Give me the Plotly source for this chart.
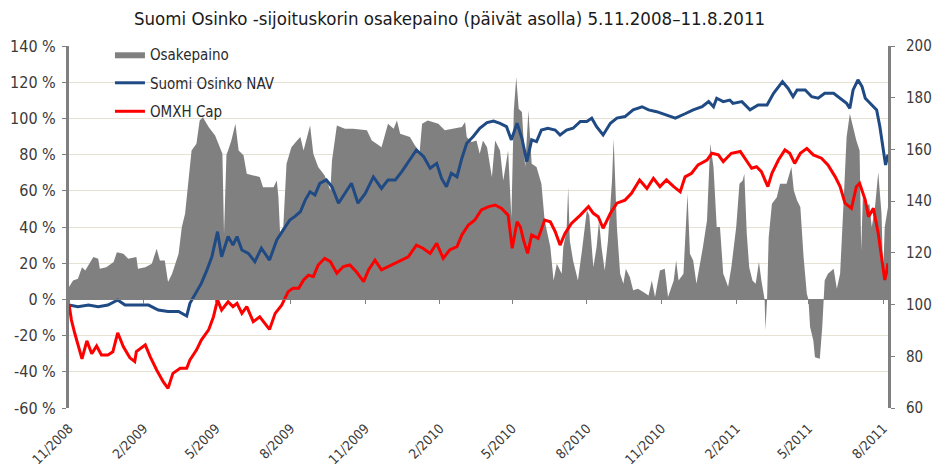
import pandas as pd
import plotly.graph_objects as go

start_date = "2008-11-05"
end_date = "2011-08-11"

# Osakepaino (equity weight, %), left axis
area_days = [0,5,11,16,20,26,30,36,38,46,55,59,67,73,83,85,94,102,108,112,118,122,127,135,139,143,147,151,157,161,
             165,172,180,186,189,191,194,196,200,205,209,215,219,227,235,239,252,256,258,260,264,268,274,281,285,289,297,301,307,315,
             322,324,330,340,350,367,373,379,385,393,400,404,408,420,426,432,435,442,455,463,476,484,488,490,496,502,506,510,515,521,
             525,531,535,541,545,548,551,554,558,562,566,570,576,582,586,593,597,601,607,609,613,615,617,621,625,627,632,636,638,641,
             644,646,650,653,656,660,664,669,671,675,679,683,686,691,695,701,708,714,718,722,728,734,738,745,748,751,757,762,765,769,
             773,777,781,786,790,794,798,802,806,808,812,816,822,826,830,832,835,838,842,846,850,853,857,858,860,862,866,872,876,884,
             890,893,897,901,905,909,911,913,917,919,925,928,930,931,935,942,946,950,954,958,962,966,970,974,976,978,982,986,989,993,
             997,1001,1003,1005,1009]
area_vals = [6.8,10.5,11.4,17.8,16,20.6,23.4,22.5,17,17.8,20.6,26.1,25.2,22.5,23.4,17,17.8,19.7,28,21.5,21.5,9.6,14.2,25.2,40,47.3,65.7,82.3,86,98.9,
             100.7,95.2,90.6,84.1,80.5,36.3,80,82.3,87.8,97,82.3,79.6,69.4,68.5,67.6,62,62,65.7,56.5,37.2,40,75,84.1,87.8,89.7,82.3,96.1,80.5,73.1,68.5,
             60.2,76.8,96.1,94.3,94.3,93.4,87.8,86,84.1,97.1,94.3,98.9,91.5,89.7,85.1,81.4,97,98.9,97.1,93.4,94.3,95.2,98,89.7,86.9,87.8,80.5,87.8,84.1,67.6,
             87.8,82.3,65.7,82.3,45,104.4,122.8,105.4,103.5,73.1,104.4,75,73.1,63.9,43.6,28.9,10.5,19.7,14.2,28.9,38.1,62,32.6,21.5,14.2,10.5,27.1,40,49.2,46.4,
             30.8,17.8,28.9,43.6,28.9,16,32.6,65.7,88.8,40,14.2,8.7,17,12.3,5,5.9,4,2.2,10.5,1.3,16,17,1.3,10.5,21.5,10.5,14.2,58.4,25.2,21.5,
             8.7,17.8,28.9,43.6,86,73.1,40,40,14.2,12,7,17.8,40,63.9,65.7,69.4,36.3,17.8,10.5,8.7,20.6,10.5,0,-17,0,34.4,52.9,56.5,63.9,63.9,
             73.1,60.2,54.7,51,23.4,3.1,0,-15.3,-22.7,-31.9,-32.8,-15.3,0,10.5,14.2,17,5.9,14.2,51,89.7,102.6,95.2,87.8,82.3,27,56.5,51,52.9,40,51,
             70.3,47.3,14.2,40,51]

# Suomi Osinko NAV (index), right axis
nav_days = [0,11,24,36,48,60,69,83,98,110,122,135,145,149,157,163,170,176,183,188,196,202,207,213,221,229,237,247,256,264,
            272,278,285,291,297,303,309,317,324,332,340,348,356,365,375,385,393,402,410,420,428,437,445,453,459,465,471,478,484,490,
            498,506,515,523,531,539,545,552,558,564,570,576,582,590,599,605,613,621,630,638,644,650,658,667,675,685,695,706,714,724,
            736,747,759,769,780,788,794,798,806,814,818,829,839,849,860,868,879,886,892,897,907,915,923,931,942,950,958,962,966,972,
            977,981,989,995,999,1003,1006,1009]
nav_vals = [99.8,99.2,99.8,99.2,99.8,101.8,99.8,99.8,99.8,97.9,97.3,97.3,95.6,100.5,105,108.2,113.4,118.5,128.2,118.5,
            126.3,123,126.3,121.1,119.8,116.6,121.8,117.2,125,128.8,132.7,134,135.9,140.4,143.6,142.4,146.9,148.2,145.6,139.2,
            143,146.9,139.2,143,149.4,144.9,148.2,148.2,151.4,155.9,159.8,157.2,152.7,154.6,148.8,145.6,150.8,149.4,156.6,162.4,
            165,168.2,170.4,171,170.1,168.8,163.7,170.1,164.3,155.3,163.7,163,167.5,168.2,167.5,165.6,167.5,168.2,170.8,170.8,
            172.1,168.8,165.6,170.1,172.1,172.7,175.3,176.5,175.3,174.6,173.3,172.1,173.8,175.3,176.5,178.5,176.5,179.8,178.5,179.1,
            177.8,178.5,175.3,177.2,177.2,181.7,186.2,183.6,180.4,183,183,180.4,179.8,181.7,181.7,179.8,177.8,175.9,183,186.9,
            184.3,179.8,177.2,175.3,168.8,161.1,154,158]

# OMXH Cap (index), right axis
omx_days = [0,3,7,16,22,28,34,40,48,54,60,67,75,81,83,94,100,108,116,122,128,137,145,149,157,163,172,178,183,188,
            196,202,207,213,219,227,235,241,247,254,262,270,276,283,289,295,301,307,315,322,330,338,346,354,363,369,377,385,393,403,
            410,418,428,436,445,453,461,469,478,484,492,500,508,517,525,533,541,546,552,556,560,565,570,578,586,593,599,605,611,619,
            630,640,646,652,658,667,675,685,693,703,712,720,728,736,745,753,759,767,775,786,792,800,806,816,827,833,841,847,853,861,
            866,874,882,888,894,901,909,917,927,935,944,950,956,964,970,974,981,985,991,997,1001,1005,1007,1009]
omx_vals = [100,94,89,79,86,81,84,80.5,80.5,81.7,89.1,83.7,79.4,78,81.8,84.4,79.9,74.7,70.2,67.6,
            73.4,75.4,75.4,78.6,82.4,86.3,90.2,95.3,101.8,97.9,101.1,99.2,100.5,96.6,99.2,93.4,95.3,92.8,90.4,96.6,
            99.8,105,106.3,106.3,109.5,111.4,110.8,115.3,117.9,116.6,112.1,114.7,115.3,112.7,108.9,113.4,117.2,113.4,114.7,116,
            117.2,118.5,123,121.8,119.8,123.7,117.9,121.1,122.4,126.9,130.8,132.7,136.6,137.9,138.5,137.2,134.6,121.8,132,130.1,
            124.9,119.8,126.9,125.6,132.7,132,128.2,123,127.5,131.4,134.6,137.9,135.3,134,129.5,135.3,139.2,140.4,143,148.2,
            144.9,148.8,145.6,148.2,145.6,143.6,149.4,150.8,154,155.9,158.5,157.9,155.3,158.5,159.2,156.6,152.7,153.3,151.4,145.6,
            150.8,155.9,159.8,158.5,154.6,158.5,160.4,157.9,156.6,154,149.4,145.6,139.2,137.2,145.6,146.9,140.4,134,137.2,127.5,
            118.5,109.5,112.1,116]

tick_dates = ["2008-11-05","2009-02-05","2009-05-05","2009-08-05","2009-11-05","2010-02-05",
              "2010-05-05","2010-08-05","2010-11-05","2011-02-05","2011-05-05","2011-08-05"]
tick_labels = ["11/2008","2/2009","5/2009","8/2009","11/2009","2/2010",
               "5/2010","8/2010","11/2010","2/2011","5/2011","8/2011"]
left_ticks = [-60,-40,-20,0,20,40,60,80,100,120,140]
left_labels = ["-60 %","-40 %","-20 %","0 %","20 %","40 %","60 %","80 %","100 %","120 %","140 %"]
right_ticks = [60,80,100,120,140,160,180,200]

title_text = "Suomi Osinko -sijoituskorin osakepaino (päivät asolla) 5.11.2008–11.8.2011"

def to_dates(days):
    return pd.Timestamp(start_date) + pd.to_timedelta(days, unit="D")

FONT = "DejaVu Sans Condensed, Liberation Sans Narrow, Liberation Sans, Arial, sans-serif"
GRAY = "#808080"

fig = go.Figure()
fig.add_trace(go.Scatter(x=to_dates(area_days), y=area_vals, name="Osakepaino", mode="lines",
                         line=dict(width=0, color=GRAY), fill="tozeroy", fillcolor=GRAY,
                         yaxis="y", legendgroup="a"))
fig.add_trace(go.Scatter(x=to_dates(nav_days), y=nav_vals, name="Suomi Osinko NAV", mode="lines",
                         line=dict(width=3, color="#1f4a84"), yaxis="y2", legendgroup="b"))
fig.add_trace(go.Scatter(x=to_dates(omx_days), y=omx_vals, name="OMXH Cap", mode="lines",
                         line=dict(width=3, color="#ff0000"), yaxis="y2", legendgroup="c"))
fig.add_trace(go.Scatter(x=[], y=[], xaxis="x2", yaxis="y", showlegend=False, hoverinfo="skip"))

xr = [start_date, end_date]
fig.update_layout(
    width=934, height=473,
    margin=dict(l=69, r=46, t=46, b=65, autoexpand=False),
    paper_bgcolor="white", plot_bgcolor="white",
    font=dict(family=FONT, size=16, color="#3a3a3a"),
    showlegend=True,
    legend=dict(x=0.050, y=1.022, xanchor="left", yanchor="top", bgcolor="rgba(0,0,0,0)",
                font=dict(size=15, color="#2a2a2a"), tracegroupgap=6, itemwidth=30),
    xaxis=dict(type="date", range=xr, tickvals=tick_dates, ticktext=tick_labels, tickangle=-45,
               showgrid=False, zeroline=False, showline=False, ticks="", automargin=False,
               tickfont=dict(size=13.5), ticklabelstandoff=9),
    xaxis2=dict(type="date", range=xr, overlaying="x", anchor="free", position=0.3,
                showline=True, linecolor=GRAY, linewidth=1, ticks="outside", ticklen=4,
                tickcolor=GRAY, tickvals=tick_dates, showticklabels=False, automargin=False,
                showgrid=False, zeroline=False),
    yaxis=dict(range=[-60, 140], tickvals=left_ticks, ticktext=left_labels, automargin=False,
               showgrid=True, gridcolor="#e6e2d3", gridwidth=1, zeroline=False,
               showline=True, linecolor=GRAY, linewidth=3, ticks="outside", ticklen=4,
               tickcolor=GRAY, ticklabelstandoff=3),
    yaxis2=dict(range=[60, 200], tickvals=right_ticks, overlaying="y", side="right", automargin=False,
                showgrid=False, zeroline=False, showline=True, linecolor=GRAY, linewidth=3,
                ticks="outside", ticklen=4, tickcolor=GRAY, ticklabelstandoff=8,
                tickfont=dict(size=15)),
    annotations=[dict(text=title_text, xref="paper", yref="paper", x=0.465, y=1.076,
                      xanchor="center", yanchor="middle", showarrow=False,
                      font=dict(size=18.5, color="#1a1a1a"))],
)

fig.write_html("out.html", config={"displayModeBar": False},
               post_script="document.body.style.margin='0';")
